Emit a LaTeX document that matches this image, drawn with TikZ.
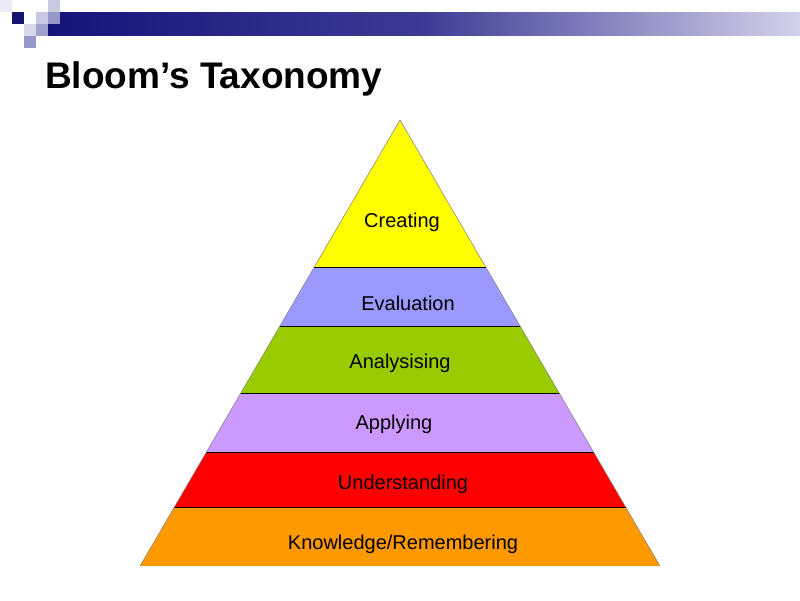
\documentclass[tikz,border=0pt]{standalone}
\usepackage{fontspec}
\setmainfont{Liberation Sans}
\definecolor{hdark}{RGB}{20,20,120}
\definecolor{hmid}{RGB}{60,60,150}
\definecolor{hlight}{RGB}{210,210,235}
\definecolor{sqa}{RGB}{235,235,245}
\definecolor{sqb}{RGB}{200,200,225}
\definecolor{sqc}{RGB}{20,20,110}
\definecolor{sqd}{RGB}{200,200,230}
\definecolor{sqe}{RGB}{150,150,200}
\definecolor{sqf}{RGB}{215,215,235}
\definecolor{sqg}{RGB}{160,160,205}
\definecolor{cyel}{RGB}{255,255,0}
\definecolor{clav}{RGB}{153,153,255}
\definecolor{cgrn}{RGB}{153,204,0}
\definecolor{cpur}{RGB}{204,153,255}
\definecolor{cred}{RGB}{255,0,0}
\definecolor{corg}{RGB}{255,153,0}
\begin{document}
\begin{tikzpicture}[x=1pt,y=-1pt,
  lbl/.style={font=\fontsize{20}{24}\selectfont, text=black},
  band/.style={draw=black, line width=0.5pt}]
\useasboundingbox (0,0) rectangle (800,600);
\fill[white] (0,0) rectangle (800,600);
% header
\shade[left color=hdark, right color=hlight, middle color=hmid] (48,12) rectangle (800,35);
\fill[sqa] (0,0) rectangle (12,12);
\fill[sqb] (48,0) rectangle (60,12);
\fill[sqc] (12,12) rectangle (24,24);
\fill[sqd] (36,12) rectangle (48,24);
\fill[sqe] (48,12) rectangle (60,24);
\fill[sqf] (24,24) rectangle (36,36);
\fill[sqg] (36,24) rectangle (48,36);
\fill[sqe] (24,36) rectangle (36,48);
\node[anchor=base west, inner sep=0pt, font=\bfseries\fontsize{37}{42}\selectfont] (title) at (45,88) {Bloom’s Taxonomy};
% pyramid
\coordinate (apex) at (400,120);
\coordinate (bl) at (140,566);
\coordinate (br) at (660,566);
\begin{scope}
\clip (apex) -- (bl) -- (br) -- cycle;
\fill[cyel] (100,100) rectangle (700,267);
\fill[clav] (100,267) rectangle (700,326);
\fill[cgrn] (100,326) rectangle (700,393);
\fill[cpur] (100,393) rectangle (700,452);
\fill[cred] (100,452) rectangle (700,507);
\fill[corg] (100,507) rectangle (700,570);
\foreach \y in {267,326,393,452,507} \draw[band] (100,\y) -- (700,\y);
\end{scope}
\draw[line width=0.5pt, draw=gray] (apex) -- (bl);
\draw[line width=0.5pt, draw=gray] (apex) -- (br);
\node[lbl] (c) at (402,222) {Creating};
\node[lbl] (e) at (408,303) {Evaluation};
\node[lbl] (an) at (400,363) {Analysising};
\node[lbl] (ap) at (394,424) {Applying};
\node[lbl] (u) at (403,484) {Understanding};
\node[lbl] (k) at (403,544) {Knowledge/Remembering};
\end{tikzpicture}
\end{document}
